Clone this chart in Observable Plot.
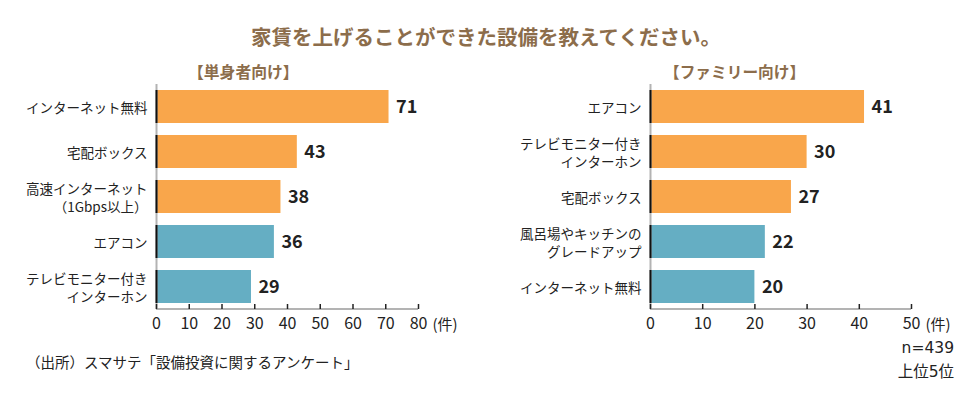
<!DOCTYPE html>
<html>
<head>
<meta charset="utf-8">
<script src="https://cdn.jsdelivr.net/npm/d3@7"></script>
<script src="https://cdn.jsdelivr.net/npm/@observablehq/plot@0.6"></script>
<style>
  html, body { margin: 0; padding: 0; background: #fff; }
  #root { position: relative; width: 974px; height: 393px; overflow: hidden; font-family: "Noto Sans CJK JP", sans-serif; color: #222; }
  .abs { position: absolute; white-space: nowrap; line-height: 1; }
  .panel { position: absolute; top: 0; }
  .panel svg { background: transparent; }
</style>
</head>
<body>
<div id="root">
  <div class="abs" id="title" style="left:0;width:972px;text-align:center;top:26px;font-size:20.5px;font-weight:bold;color:#8c6d4b;"></div>
  <div class="abs" id="subL" style="left:188px;top:64px;font-size:15.8px;font-weight:bold;color:#8c6d4b;"></div>
  <div class="abs" id="subR" style="left:664px;top:64px;font-size:15.7px;font-weight:bold;color:#8c6d4b;"></div>
  <div class="panel" id="left" style="left:0;"></div>
  <div class="panel" id="right" style="left:487px;"></div>
  <div class="abs" id="source" style="left:26px;top:355px;font-size:14.5px;color:#222;"></div>
  <div class="abs" id="nnote" style="right:20px;top:341px;font-size:15.5px;text-align:right;color:#222;font-family:'DejaVu Sans','Noto Sans CJK JP',sans-serif;"></div>
  <div class="abs" id="rank" style="right:20px;top:365px;font-size:15.5px;text-align:right;color:#222;font-family:'DejaVu Sans','Noto Sans CJK JP',sans-serif;"></div>
</div>
<script>
// ---- text ----
const titleText = "家賃を上げることができた設備を教えてください。";
const leftTitle = "【単身者向け】";
const rightTitle = "【ファミリー向け】";
const sourceText = "（出所）スマサテ「設備投資に関するアンケート」";
const nText = "n=439";
const rankText = "上位5位";
const unitText = "(件)";

// ---- data: single-person ----
const leftCategories = ["インターネット無料", "宅配ボックス", "高速インターネット\n（1Gbps以上）", "エアコン", "テレビモニター付き\nインターホン"];
const leftValues = [71, 43, 38, 36, 29];
const leftGroups = ["top", "top", "top", "other", "other"];
const leftTicks = [0, 10, 20, 30, 40, 50, 60, 70, 80];

// ---- data: family ----
const rightCategories = ["エアコン", "テレビモニター付き\nインターホン", "宅配ボックス", "風呂場やキッチンの\nグレードアップ", "インターネット無料"];
const rightValues = [41, 30, 27, 22, 20];
const rightGroups = ["top", "top", "top", "other", "other"];
const rightTicks = [0, 10, 20, 30, 40, 50];

document.getElementById("title").textContent = titleText;
document.getElementById("subL").textContent = leftTitle;
document.getElementById("subR").textContent = rightTitle;
document.getElementById("source").textContent = sourceText;
document.getElementById("nnote").textContent = nText;
document.getElementById("rank").textContent = rankText;

const FONT = "Noto Sans CJK JP";
const MT = 84, MB = 84, H = 393;
const frameH = H - MT - MB;

function panel(categories, values, groups, ticks, marginLeft, marginRight) {
  const data = categories.map((c, i) => ({c, v: values[i], g: groups[i]}));
  const max = ticks[ticks.length - 1];
  return Plot.plot({
    width: 487,
    height: H,
    marginLeft, marginRight, marginTop: MT, marginBottom: MB,
    style: {fontFamily: FONT, background: "transparent", color: "#222", overflow: "visible"},
    x: {domain: [0, max], ticks},
    y: {domain: categories, paddingInner: 0.2667, paddingOuter: 0.1333},
    color: {domain: ["top", "other"], range: ["#f9a64b", "#65aec3"]},
    marks: [
      Plot.barX(data, {x: "v", y: "c", fill: "g"}),
      Plot.ruleX([0], {stroke: "#b3b3b3", strokeWidth: 2}),
      Plot.tickX(data, {x: () => 0, y: "c", stroke: "#111", strokeWidth: 2}),
      Plot.rect([0], {x1: () => 0, x2: () => max, insetTop: frameH - 1, insetBottom: -1, fill: "#b3b3b3"}),
      Plot.ruleX(ticks, {x: d => d, insetTop: frameH - 5, stroke: "#222", strokeWidth: 1.5}),
      Plot.axisX({ticks, tickSize: 0, tickPadding: 8, fontSize: 16, label: null, tickFormat: d => String(d)}),
      Plot.axisY({tickSize: 0, tickPadding: 9, fontSize: 13.5, lineHeight: 1.35, label: null}),
      Plot.text(data, {x: "v", y: "c", text: d => String(d.v), dx: 7, textAnchor: "start", fontSize: 18, fontWeight: "bold", fill: "#222"}),
      Plot.text([unitText], {x: () => max, frameAnchor: "bottom", dy: 16, dx: 14, textAnchor: "start", lineAnchor: "middle", fontSize: 15, fill: "#222"})
    ]
  });
}

document.getElementById("left").appendChild(panel(leftCategories, leftValues, leftGroups, leftTicks, 156, 69));
document.getElementById("right").appendChild(panel(rightCategories, rightValues, rightGroups, rightTicks, 163, 63));
</script>
</body>
</html>
